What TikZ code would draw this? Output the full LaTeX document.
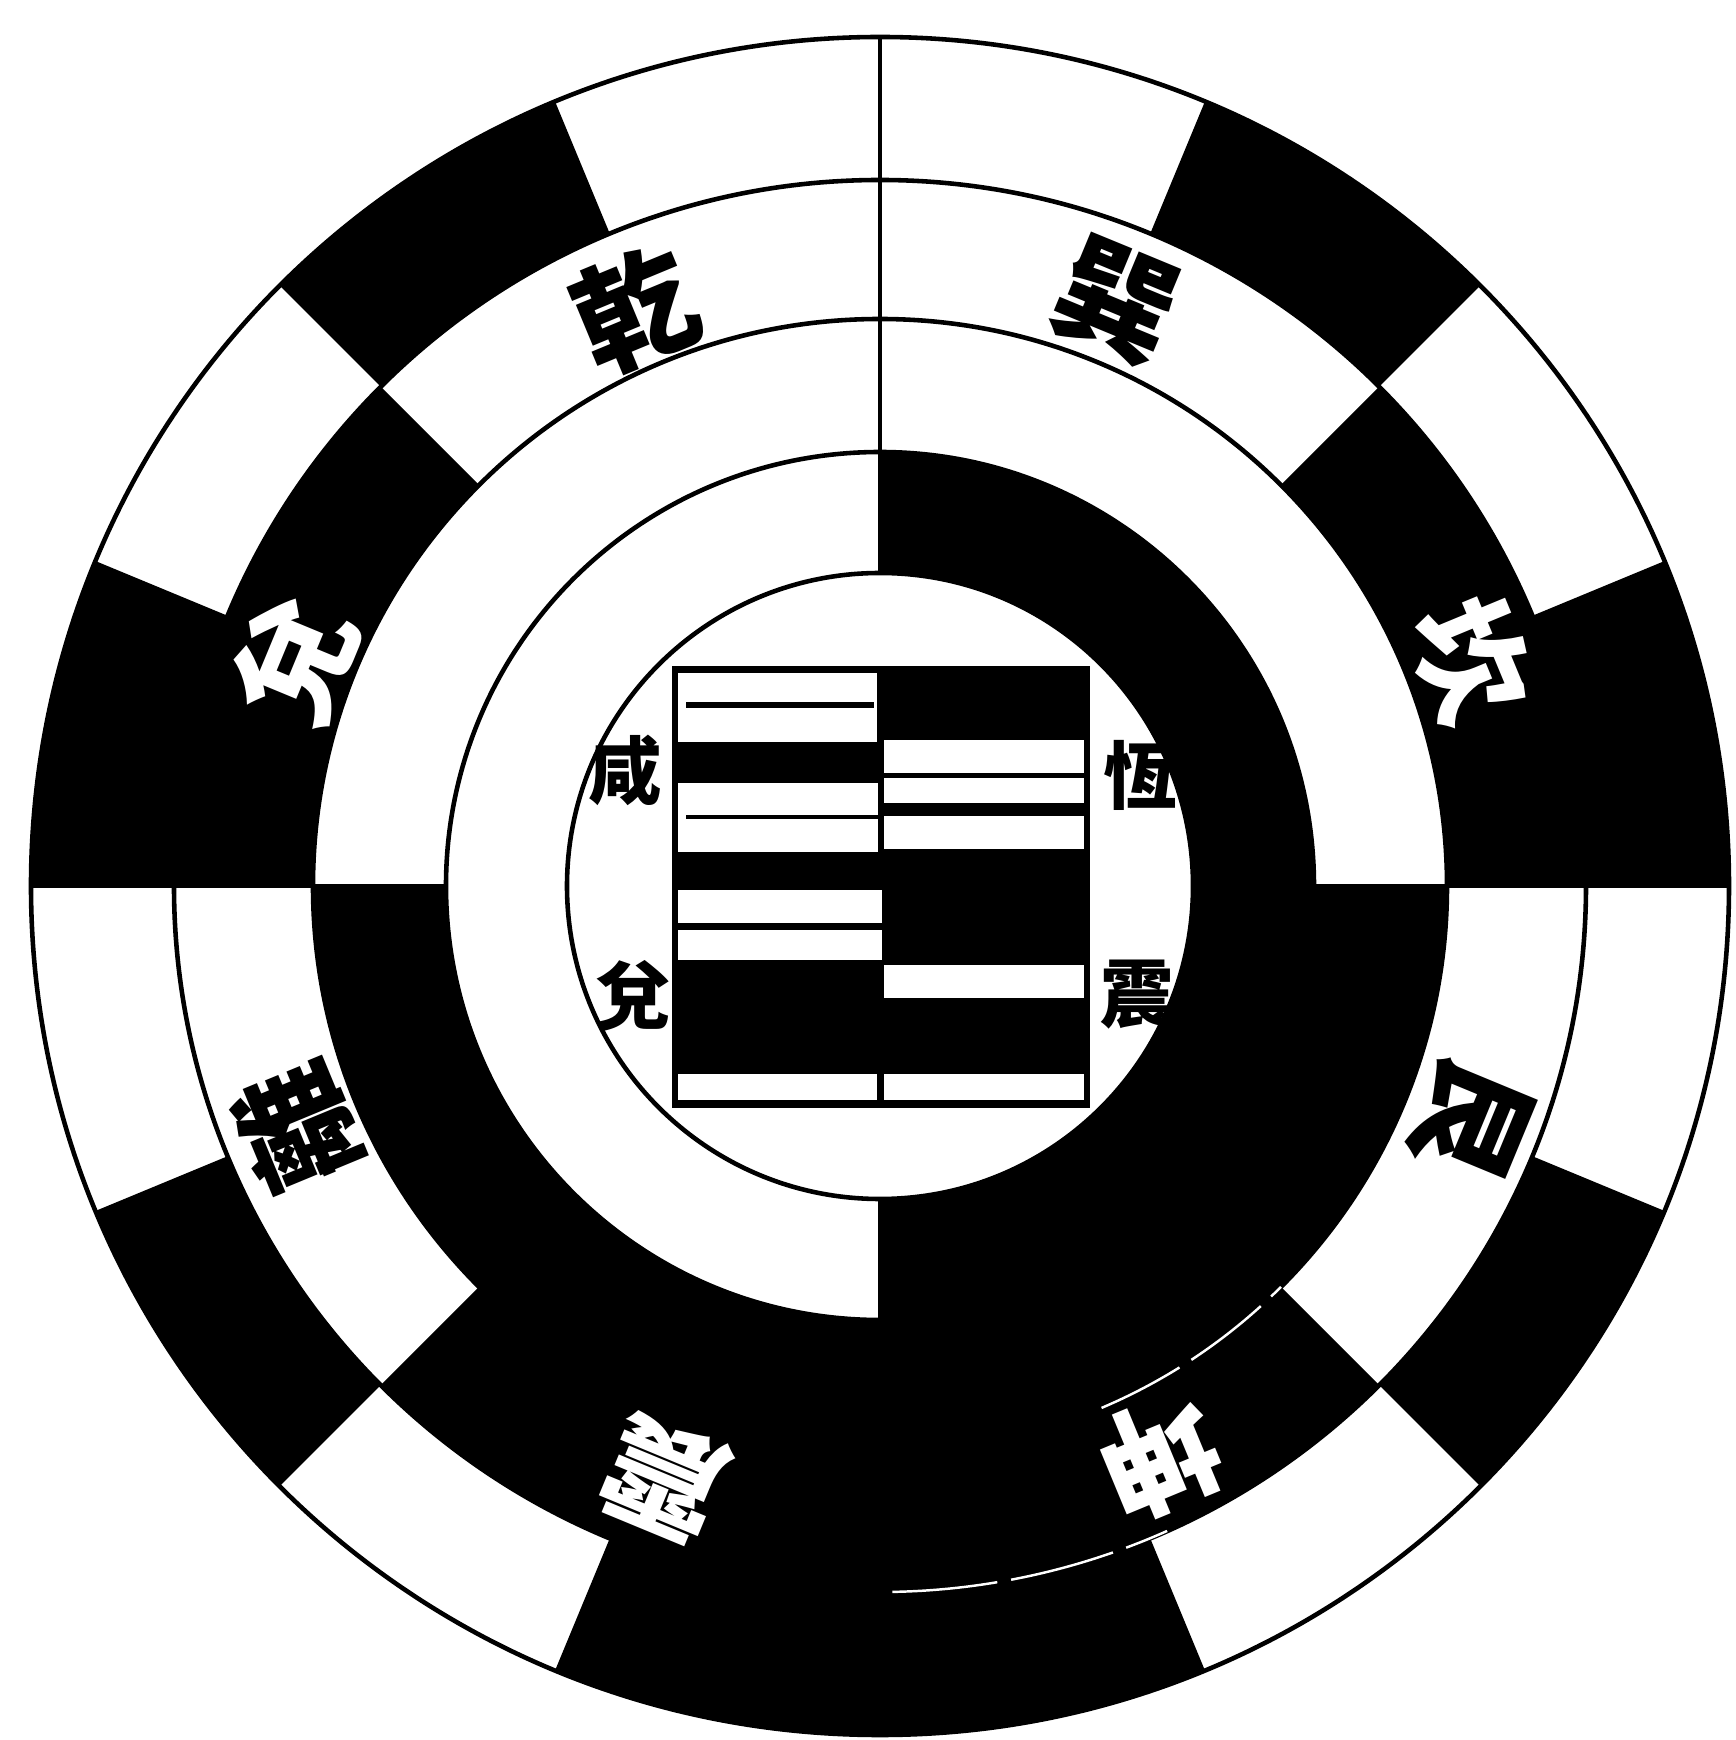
\documentclass[tikz,border=0pt]{standalone}
\usepackage{fontspec}
\newfontfamily\cjk{Noto Sans CJK TC}
\usetikzlibrary{calc}
\definecolor{ink}{HTML}{000000}

% filled ring cell: start angle, end angle, inner radius, outer radius
\newcommand{\ringcell}[4]{%
  \fill[ink] (#1:#3) arc[start angle=#1,end angle=#2,radius=#3]
    -- (#2:#4) arc[start angle=#2,end angle=#1,radius=#4] -- cycle;}

\begin{document}
\begin{tikzpicture}[x=0.01cm,y=0.01cm,line width=1.3pt,
    gua/.style={font={\cjk\bfseries\fontsize{34}{34}\selectfont},inner sep=0pt},
    inname/.style={font={\cjk\bfseries\fontsize{21}{21}\selectfont},inner sep=0pt}]
  \useasboundingbox[fill=white] (-880,-854) rectangle (855,886);

  % outer ring, 16 cells
  \foreach \a/\b in {0/22.5,45/67.5,112.5/135,157.5/180,-157.5/-135,-112.5/-67.5,-45/-22.5}
    {\ringcell{\a}{\b}{706}{849}}
  % ring of the eight trigrams
  \foreach \a/\b in {135/180,-135/-45,0/45}
    {\ringcell{\a}{\b}{567}{706}}
  % two inner half rings
  \ringcell{-180}{0}{434}{567}
  \ringcell{-90}{90}{313}{434}

  % circles and dividing lines
  \foreach \r in {849,706,567,434,313}
    \draw[ink] (0,0) circle[radius=\r];
  \draw[ink] (90:313) -- (90:849);
  \draw[ink] (180:434) -- (180:849);
  \draw[ink] (0:434) -- (0:849);
  \draw[ink] (270:313) -- (270:434);
  % worn lines showing through the black
  \draw[white,line width=0.7pt,dash pattern=on 30pt off 4pt] (-89:706) arc[start angle=-89,end angle=-66,radius=706];
  \draw[white,line width=0.7pt,dash pattern=on 25pt off 4pt] (-67:567) arc[start angle=-67,end angle=-45,radius=567];

  % trigram names
  \node[gua] (qian) at (113:626) [rotate=22.5] {乾};
  \node[gua] (xun) at (68:630) [rotate=-22.5] {巽};
  \node[gua,text=white] (kan) at (21:633) [rotate=-67.5] {坎};
  \node[gua] (gen) at (-21.5:636) [rotate=-112.5] {艮};
  \node[gua,text=white] (kun) at (-64:636) [rotate=-157.5] {坤};
  \node[gua,text=white] (zhen) at (-110:630) [rotate=157.5] {震};
  \node[gua] (li) at (-157.5:632) [rotate=112.5] {離};
  \node[gua,text=white] (dui) at (159:627) [rotate=67.5] {兌};

  % centre figure
  \fill[ink] (-208,-222) rectangle (210,220);
  \foreach \xa/\ya/\xb/\yb in {-202/213/-3/144,-202/103/-2/34,-202/-4/2/-37,-202/-44/2/-74,-202/-188/-3/-214,
      4/146/204/113,4/108/204/83,4/70/204/37,4/-79/204/-112,4/-188/204/-214}
    \fill[white] (\xa,\ya) rectangle (\xb,\yb);
  \fill[ink] (-194,184) rectangle (-6,178);
  \fill[ink] (-194,71) rectangle (-2,67);

  \node[inname] (xian) at (-255,116) {咸};
  \node[inname] (duiin) at (-247,-110) {兌};
  \node[inname] (heng) at (260,111) {恆};
  \node[inname] (zhenin) at (257,-109) {震};
\end{tikzpicture}
\end{document}
